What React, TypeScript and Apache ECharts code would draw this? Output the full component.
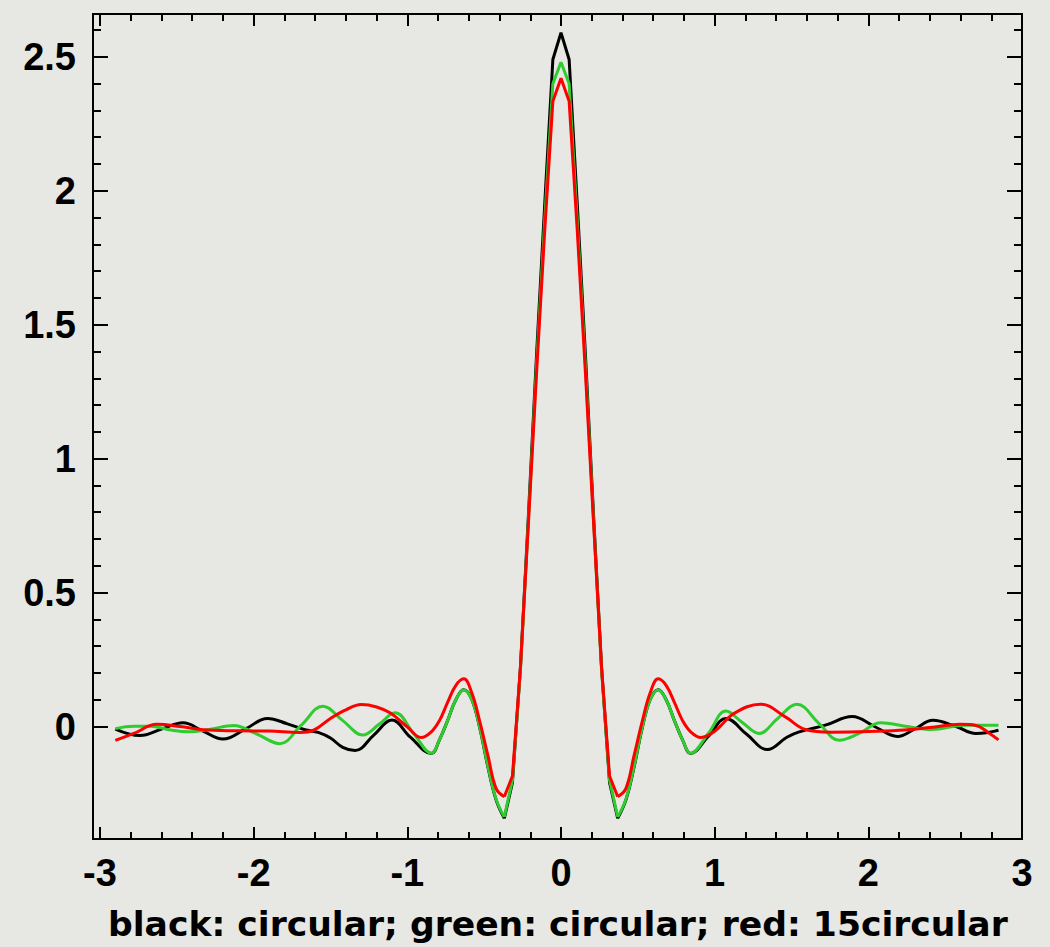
import React, { useEffect, useRef } from "react";
import * as echarts from "echarts";

// ---- central lobe samples (shared x positions) ----
const centerX = [
  -0.844, -0.791, -0.738, -0.686, -0.633, -0.58, -0.527, -0.475, -0.422, -0.369,
  -0.316, -0.264, -0.211, -0.158, -0.105, -0.053, 0,
  0.053, 0.105, 0.158, 0.211, 0.264, 0.316, 0.369, 0.422, 0.475,
  0.527, 0.58, 0.633, 0.686, 0.738, 0.791, 0.844,
];
const blackCenter = [
  -0.101, -0.050, 0.022, 0.098, 0.137, 0.100, -0.010, -0.153, -0.275, -0.343,
  -0.210, 0.220, 0.800, 1.400, 1.960, 2.490, 2.590,
  2.490, 1.960, 1.400, 0.800, 0.220, -0.210, -0.343, -0.275, -0.153,
  -0.010, 0.100, 0.137, 0.098, 0.022, -0.050, -0.101,
];
const greenCenter = [
  -0.100, -0.050, 0.022, 0.098, 0.136, 0.100, -0.008, -0.150, -0.272, -0.338,
  -0.200, 0.210, 0.780, 1.360, 1.900, 2.400, 2.480,
  2.400, 1.900, 1.360, 0.780, 0.210, -0.200, -0.338, -0.272, -0.150,
  -0.008, 0.100, 0.136, 0.098, 0.022, -0.050, -0.100,
];
const redCenter = [
  -0.020, 0.022, 0.090, 0.152, 0.178, 0.125, 0.015, -0.110, -0.232, -0.262,
  -0.185, 0.220, 0.770, 1.330, 1.860, 2.334, 2.420,
  2.334, 1.860, 1.330, 0.770, 0.220, -0.185, -0.262, -0.232, -0.110,
  0.015, 0.125, 0.178, 0.152, 0.090, 0.022, -0.020,
];

// ---- wings: [x, value] readings ----
const blackLeft = [
  [-2.9, -0.010], [-2.74, -0.034], [-2.6, -0.010], [-2.46, 0.014], [-2.33, -0.017],
  [-2.2, -0.047], [-2.05, -0.008], [-1.91, 0.030], [-1.78, 0.010], [-1.666, -0.012],
  [-1.58, -0.022], [-1.5, -0.043], [-1.42, -0.078], [-1.34, -0.090], [-1.22, -0.033],
  [-1.1, 0.024], [-0.98, -0.040],
];
const blackRight = [
  [0.96, -0.036], [1.073, 0.030], [1.21, -0.030], [1.343, -0.086],
  [1.47, -0.040], [1.55, -0.020], [1.72, 0.005], [1.895, 0.037], [2.04, 0.000],
  [2.19, -0.037], [2.3, -0.010], [2.42, 0.023], [2.57, 0.000], [2.7, -0.026],
  [2.78, -0.022], [2.847, -0.014],
];
const greenLeft = [
  [-2.9, -0.008], [-2.78, 0.001], [-2.67, 0.001], [-2.55, -0.012], [-2.42, -0.020],
  [-2.28, -0.010], [-2.13, 0.004], [-1.98, -0.028], [-1.83, -0.064], [-1.69, 0.005],
  [-1.55, 0.076], [-1.42, 0.022], [-1.29, -0.032], [-1.18, 0.010], [-1.08, 0.051],
  [-0.96, -0.025],
];
const greenRight = [
  [0.96, -0.025], [1.073, 0.058], [1.18, 0.015], [1.289, -0.026],
  [1.41, 0.030], [1.535, 0.083], [1.68, 0.011], [1.81, -0.051], [1.94, -0.026],
  [2.08, 0.014], [2.24, 0.001], [2.41, -0.011], [2.63, 0.005], [2.847, 0.005],
];
const redLeft = [
  [-2.9, -0.052], [-2.78, -0.026], [-2.63, 0.008], [-2.48, 0.000], [-2.33, -0.012],
  [-2.1, -0.016], [-1.9, -0.017], [-1.7, -0.022], [-1.61, -0.014], [-1.5, 0.030],
  [-1.4, 0.062], [-1.3, 0.082], [-1.2, 0.073], [-1.11, 0.050], [-1.0, -0.002],
  [-0.91, -0.041],
];
const redRight = [
  [0.91, -0.041], [1.0, -0.018], [1.127, 0.049], [1.3, 0.083],
  [1.46, 0.036], [1.59, -0.011], [1.76, -0.021], [2.0, -0.019], [2.2, -0.014],
  [2.4, -0.004], [2.6, 0.008], [2.7, 0.004], [2.78, -0.022], [2.847, -0.050],
];

const curveNames = ["black", "green", "red"];
const curveColors = ["#000000", "#2fcc2f", "#ff0000"];

// ---- axes ----
const dataXRange = [-3.0455, 3.0];
const dataYRange = [-0.42, 2.66];
const xTickRange = [-3, 3];
const xTickStep = 1;
const yTickRange = [0, 2.66];
const yTickStep = 0.5;
const minorSplits = 5;

const xTitle = "black: circular; green: circular; red: 15circular";

const BG = "#e7e7e3";
const labelFont = {
  fontFamily: "Liberation Sans, Arial, sans-serif",
  fontWeight: "bold" as const,
  fontSize: 38,
  color: "#000",
};

export default function App() {
  const ref = useRef<HTMLDivElement>(null);

  useEffect(() => {
    if (!ref.current) return;
    const chart = echarts.init(ref.current, null, { renderer: "svg" });

    const centers = [blackCenter, greenCenter, redCenter];
    const lefts = [blackLeft, greenLeft, redLeft];
    const rights = [blackRight, greenRight, redRight];
    const centerPairs = (k: number) => centerX.map((x, i) => [x, centers[k][i]]);
    const minL = centerX.indexOf(-0.369);
    const minR = centerX.indexOf(0.369);

    const series: any[] = [];
    curveNames.forEach((name, k) => {
      const pairs = centerPairs(k);
      const common = {
        name,
        type: "line",
        xAxisIndex: 0,
        yAxisIndex: 0,
        showSymbol: false,
        lineStyle: { color: curveColors[k], width: 3 },
        itemStyle: { color: curveColors[k] },
        z: 2 + k,
      };
      // left wing: outer readings + side lobes, smooth
      series.push({
        ...common,
        smooth: 0.4,
        data: [...lefts[k], ...pairs.slice(0, minL + 1)],
      });
      // main lobe: straight segments between samples
      series.push({ ...common, smooth: false, data: pairs.slice(minL, minR + 1) });
      // right wing
      series.push({
        ...common,
        smooth: 0.4,
        data: [...pairs.slice(minR), ...rights[k]],
      });
    });

    const xTickAxis = (pos: "bottom" | "top", offset: number, showLabel: boolean) => ({
      type: "value",
      gridIndex: 1,
      position: pos,
      offset,
      min: xTickRange[0],
      max: xTickRange[1],
      interval: xTickStep,
      axisLine: { show: false, onZero: false },
      splitLine: { show: false },
      axisTick: { show: true, inside: true, length: 12, lineStyle: { color: "#000", width: 2 } },
      minorTick: { show: true, splitNumber: minorSplits, length: 7, lineStyle: { color: "#000", width: 2 } },
      axisLabel: { show: showLabel, margin: 15, ...labelFont },
    });

    const yTickAxis = (pos: "left" | "right", offset: number, showLabel: boolean) => ({
      type: "value",
      gridIndex: 1,
      position: pos,
      offset,
      min: yTickRange[0],
      max: yTickRange[1],
      interval: yTickStep,
      axisLine: { show: false, onZero: false },
      splitLine: { show: false },
      axisTick: { show: true, inside: true, length: 15, lineStyle: { color: "#000", width: 2 } },
      minorTick: { show: true, splitNumber: minorSplits, length: 8, lineStyle: { color: "#000", width: 2 } },
      axisLabel: { show: showLabel, margin: 17, showMaxLabel: false, ...labelFont },
    });

    chart.setOption({
      animation: false,
      backgroundColor: BG,
      title: {
        text: xTitle,
        left: 108,
        top: 906,
        padding: 0,
        textStyle: {
          fontFamily: "DejaVu Sans, sans-serif",
          fontWeight: "bold",
          fontSize: 34.6,
          color: "#000",
        },
      },
      grid: [
        {
          left: 93,
          right: 28,
          top: 14,
          bottom: 108,
          show: true,
          borderColor: "#000",
          borderWidth: 2,
          backgroundColor: "transparent",
          z: 5,
        },
        { left: 100, right: 28, top: 14, bottom: 220.5 },
      ],
      xAxis: [
        {
          type: "value",
          gridIndex: 0,
          min: dataXRange[0],
          max: dataXRange[1],
          show: false,
          axisLine: { onZero: false },
        },
        xTickAxis("bottom", 112.5, true),
        xTickAxis("top", 0, false),
      ],
      yAxis: [
        {
          type: "value",
          gridIndex: 0,
          min: dataYRange[0],
          max: dataYRange[1],
          show: false,
          axisLine: { onZero: false },
        },
        yTickAxis("left", 7, true),
        yTickAxis("right", 0, false),
      ],
      series,
    });

    return () => chart.dispose();
  }, []);

  return (
    <div
      style={{
        position: "fixed",
        left: 0,
        top: 0,
        width: 1050,
        height: 947,
        background: BG,
      }}
    >
      <div ref={ref} style={{ width: 1050, height: 947 }} />
    </div>
  );
}
